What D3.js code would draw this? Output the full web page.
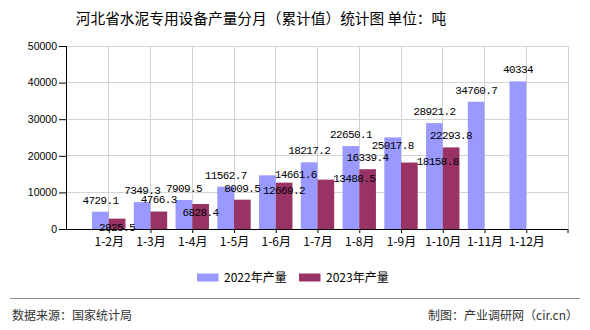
<!DOCTYPE html>
<html>
<head>
<meta charset="utf-8">
<script src="https://cdn.jsdelivr.net/npm/d3@7/dist/d3.min.js"></script>
<style>
  html, body { margin: 0; padding: 0; background: #fff; }
  svg { display: block; }
</style>
</head>
<body>
<svg id="chart" width="590" height="330"></svg>
<script>
// ---- data ----
const categories = ["1-2月","1-3月","1-4月","1-5月","1-6月","1-7月","1-8月","1-9月","1-10月","1-11月","1-12月"];
const values2022 = [4729.1, 7349.3, 7909.5, 11562.7, 14661.6, 18217.2, 22650.1, 25017.8, 28921.2, 34760.7, 40334];
const values2023 = [2825.5, 4766.3, 6828.4, 8009.5, 12669.2, 13488.5, 16339.4, 18158.8, 22293.8, null, null];
const seriesNames = ["2022年产量", "2023年产量"];
const yTicks = [0, 10000, 20000, 30000, 40000, 50000];

// label placement keywords (as in the reference: top / inside / right)
const place2022 = ["top","top","top","top","right","top","top","inside","top","top","top"];
const place2023 = ["inside","top","inside","top","inside","right","top","right","top","top","top"];

const colors = ["#9999FF", "#993366"];

const svg = d3.select("#chart");
const pLeft = 67, pRight = 568, pTop = 46, pBottom = 229;

const x = d3.scalePoint().domain(categories).range([pLeft, pRight]).padding(1);
const y = d3.scaleLinear().domain([0, 50000]).range([pBottom, pTop]);
const bw = x.step() * 0.4;

// title
svg.append("text")
  .attr("x", 261).attr("y", 23.5)
  .attr("text-anchor", "middle")
  .style("font-family", "'Noto Sans CJK SC', sans-serif")
  .style("font-size", "14.7px")
  .attr("fill", "#000")
  .text("河北省水泥专用设备产量分月（累计值）统计图 单位：吨");

// grid
const grid = svg.append("g").attr("stroke", "#d4d4d4").attr("stroke-width", 1).attr("shape-rendering", "crispEdges");
yTicks.filter(t => t > 0).forEach(t => {
  grid.append("line").attr("x1", pLeft).attr("x2", pRight).attr("y1", y(t)).attr("y2", y(t));
});
categories.forEach(c => {
  grid.append("line").attr("x1", x(c)).attr("x2", x(c)).attr("y1", pTop).attr("y2", pBottom);
});
grid.append("line").attr("x1", pRight).attr("x2", pRight).attr("y1", pTop).attr("y2", pBottom);

// bars
const series = [values2022, values2023];
series.forEach((vals, si) => {
  svg.append("g").selectAll("rect")
    .data(vals.map((v, i) => ({ c: categories[i], v })).filter(d => d.v != null))
    .join("rect")
    .attr("x", d => x(d.c) + (si === 0 ? -bw : 0))
    .attr("y", d => y(d.v))
    .attr("width", bw)
    .attr("height", d => y(0) - y(d.v))
    .attr("fill", colors[si]);
});

// axes
const yAxis = d3.axisLeft(y).tickValues(yTicks).tickSize(8).tickPadding(2).tickFormat(d3.format("d"));
const gy = svg.append("g").attr("transform", `translate(${pLeft},0)`).call(yAxis);
gy.select(".domain").attr("stroke", "#000").attr("d", `M-0.5,${pTop}V${pBottom}`);
gy.selectAll(".tick line").attr("stroke", "#000");
gy.selectAll("text").style("font-family", "'Liberation Sans', Arial, sans-serif").style("font-size", "10.5px").attr("fill", "#000");

const xAxis = d3.axisBottom(x).tickSize(4).tickPadding(4);
const gx = svg.append("g").attr("transform", `translate(0,${pBottom})`).call(xAxis);
gx.select(".domain").attr("stroke", "#000").attr("d", `M${pLeft - 8},0.5H${pRight}`);
gx.selectAll(".tick line").attr("stroke", "#000");
gx.selectAll("text").style("font-family", "'Noto Sans CJK SC', sans-serif").style("font-size", "12px").attr("fill", "#000");
gx.append("line").attr("x1", pRight).attr("x2", pRight).attr("y1", 0).attr("y2", 4).attr("stroke", "#000");

// value labels
const fmt = v => String(v);
function addLabels(vals, places, si) {
  vals.forEach((v, i) => {
    if (v == null) return;
    const c = categories[i];
    const bx = x(c) + (si === 0 ? -bw : 0);
    const cx = bx + bw / 2;
    const ty = y(v);
    const p = places[i];
    let tx = cx, yy = ty - 12, anchor = "middle";
    if (p === "inside") { yy = ty + 8; }
    else if (p === "right") { tx = bx + bw - 1; yy = ty - 1; anchor = "start"; }
    svg.append("text")
      .attr("x", tx).attr("y", yy)
      .attr("dy", "0.35em")
      .attr("text-anchor", anchor)
      .style("font-family", "'Liberation Mono', 'DejaVu Sans Mono', monospace")
      .style("font-size", "11px")
      .style("letter-spacing", "-0.6px")
      .attr("fill", "#000")
      .text(fmt(v));
  });
}
addLabels(values2022, place2022, 0);
addLabels(values2023, place2023, 1);

// legend
const legendPos = [197, 299];
seriesNames.forEach((name, i) => {
  svg.append("rect").attr("x", legendPos[i]).attr("y", 273.5).attr("width", 21.5).attr("height", 8).attr("fill", colors[i]);
  svg.append("text").attr("x", legendPos[i] + 27).attr("y", 277.5).attr("dy", "0.35em")
    .style("font-family", "'Noto Sans CJK SC', sans-serif").style("font-size", "12px").attr("fill", "#000")
    .text(name);
});

// footer
svg.append("line").attr("x1", 10).attr("x2", 580).attr("y1", 298.5).attr("y2", 298.5).attr("stroke", "#8c8c8c").attr("stroke-width", 1);
svg.append("text").attr("x", 12).attr("y", 320)
  .style("font-family", "'Noto Sans CJK SC', sans-serif").style("font-size", "12px").attr("fill", "#333")
  .text("数据来源：国家统计局");
svg.append("text").attr("x", 578).attr("y", 320).attr("text-anchor", "end")
  .style("font-family", "'Noto Sans CJK SC', sans-serif").style("font-size", "12px").attr("fill", "#333")
  .text("制图：产业调研网（cir.cn）");
</script>
</body>
</html>
